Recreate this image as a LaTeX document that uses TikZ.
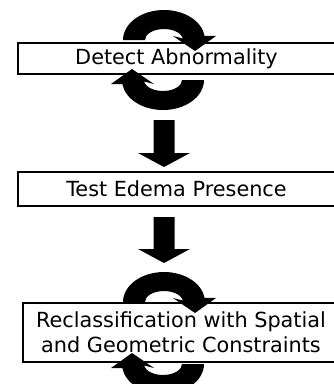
\documentclass[tikz,border=0pt]{standalone}
\usepackage{fontspec}
\setmainfont{DejaVu Sans}
\usetikzlibrary{calc}

\tikzset{
  x=1pt, y=-1pt,
  stepbox/.style={draw=black, line width=1.3pt, fill=white, rectangle,
    inner sep=0pt, align=center, font=\fontsize{20.8}{25}\selectfont},
  % curved "repeat" arrow, drawn around its centre
  pics/cyclearrow/.style={code={
    \fill[black] (-41,0) arc[start angle=180, end angle=352, x radius=41, y radius=30]
      -- (52,-4) -- (31,11) -- (9,-4)
      -- (352:19 and 11) arc[start angle=352, end angle=180, x radius=19, y radius=11]
      -- cycle;
  }},
}

% filled block arrow pointing down from #1 (top of shaft) to #2 (tip)
\newcommand\blockdown[2]{%
  \fill[black] ($(#1)+(-10.5,0)$) -- ($(#1)+(10.5,0)$) -- ($(#2)+(10.5,-14)$)
    -- ($(#2)+(26,-14)$) -- (#2) -- ($(#2)+(-26,-14)$) -- ($(#2)+(-10.5,-14)$) -- cycle;}

\begin{document}
\begin{tikzpicture}
\useasboundingbox (0,0) rectangle (334,384);
\clip (0,0) rectangle (334,384);

% process boxes
\node[stepbox, minimum width=317pt, minimum height=31pt] (detect) at (176.5,58.5)
  {Detect Abnormality};
\node[stepbox, minimum width=317pt, minimum height=34pt] (edema) at (176.5,189)
  {Test Edema Presence};
\node[stepbox, minimum width=316pt, minimum height=59pt] (reclass) at (181,332.5)
  {Reclassification with Spatial\\and Geometric Constraints};

% centres of the loop arrows and ends of the block arrows
\coordinate (loopAtop) at (164,40);
\coordinate (loopAbot) at (163,80);
\coordinate (loopBtop) at (164,302);
\coordinate (loopBbot) at (163,364);
\coordinate (arrAfrom) at (164,120);
\coordinate (arrAto)   at (164,167);
\coordinate (arrBfrom) at (164,217);
\coordinate (arrBto)   at (164,263);

% repeat loops on the first and last steps
\pic at (loopAtop) {cyclearrow};
\pic[rotate=180] at (loopAbot) {cyclearrow};
\pic at (loopBtop) {cyclearrow};
\pic[rotate=180] at (loopBbot) {cyclearrow};

% flow between steps
\blockdown{arrAfrom}{arrAto}
\blockdown{arrBfrom}{arrBto}
\end{tikzpicture}
\end{document}
